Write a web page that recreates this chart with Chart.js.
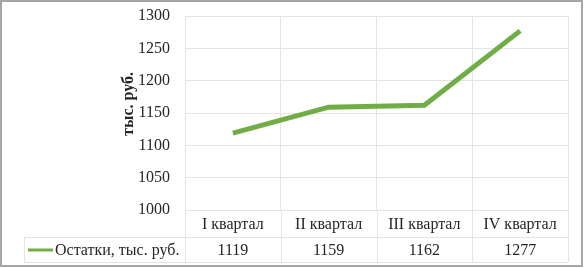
<!DOCTYPE html>
<html>
<head>
<meta charset="utf-8">
<script src="https://cdn.jsdelivr.net/npm/chart.js@4/dist/chart.umd.min.js"></script>
<style>
  html, body { margin: 0; padding: 0; background: #fff; }
  #wrap { width: 584px; height: 268px; }
</style>
</head>
<body>
<div id="wrap"><canvas id="myChart" width="584" height="268"></canvas></div>
<script>
// data
const quarters = ['I квартал', 'II квартал', 'III квартал', 'IV квартал'];
const balances = [1119, 1159, 1162, 1277];
const seriesName = 'Остатки, тыс. руб.';
const axisTitle = 'тыс. руб.';
const yMin = 1000, yMax = 1300, yStep = 50;

const green = '#70ad47';
const gridColor = '#e4e4e4';
const textColor = '#262626';
const serif = "'Liberation Serif', 'Times New Roman', serif";

// outer frame + axis title + data table under the plot
const tablePlugin = {
    id: 'dataTable',
    afterDraw(chart) {
        const ctx = chart.ctx;
        const area = chart.chartArea;
        const x = chart.scales.x;
        const row1 = area.bottom + 27;
        const row2 = row1 + 25;
        const legendLeft = 24;

        // column borders
        let edges = [area.left];
        for (let i = 0; i < quarters.length - 1; i++) {
            edges.push((x.getPixelForValue(i) + x.getPixelForValue(i + 1)) / 2);
        }
        edges.push(area.right);

        ctx.save();
        ctx.strokeStyle = gridColor;
        ctx.lineWidth = 1;
        ctx.beginPath();
        edges.forEach(e => {
            const px = Math.round(e) + 0.5;
            ctx.moveTo(px, area.bottom);
            ctx.lineTo(px, row2);
        });
        ctx.moveTo(legendLeft + 0.5, row1);
        ctx.lineTo(legendLeft + 0.5, row2);
        ctx.moveTo(legendLeft, row1 + 0.5);
        ctx.lineTo(area.right, row1 + 0.5);
        ctx.moveTo(legendLeft, row2 + 0.5);
        ctx.lineTo(area.right, row2 + 0.5);
        ctx.stroke();

        // texts
        ctx.fillStyle = textColor;
        ctx.font = '16px ' + serif;
        ctx.textAlign = 'center';
        ctx.textBaseline = 'middle';
        quarters.forEach((q, i) => {
            const cx = x.getPixelForValue(i);
            ctx.fillText(q, cx, (area.bottom + row1) / 2 + 1);
            ctx.fillText(String(balances[i]), cx, (row1 + row2) / 2 + 1);
        });

        // legend key
        ctx.strokeStyle = green;
        ctx.lineWidth = 3;
        ctx.beginPath();
        ctx.moveTo(28, (row1 + row2) / 2 + 0.5);
        ctx.lineTo(53, (row1 + row2) / 2 + 0.5);
        ctx.stroke();
        ctx.textAlign = 'left';
        ctx.fillText(seriesName, 55, (row1 + row2) / 2 + 1);

        // axis title
        ctx.save();
        ctx.translate(129, 104);
        ctx.rotate(-Math.PI / 2);
        ctx.font = 'bold 16px ' + serif;
        ctx.textAlign = 'center';
        ctx.fillText(axisTitle, 0, 0);
        ctx.restore();

        // frame
        ctx.strokeStyle = '#a6a6a6';
        ctx.lineWidth = 2;
        ctx.strokeRect(1, 1, 581, 265);
        ctx.restore();
    }
};

var ctx = document.getElementById('myChart').getContext('2d');
var myChart = new Chart(ctx, {
    type: 'line',
    data: {
        labels: quarters,
        datasets: [{
            label: seriesName,
            data: balances,
            borderColor: green,
            backgroundColor: green,
            borderWidth: 5,
            pointRadius: 0,
            tension: 0
        }]
    },
    options: {
        responsive: false,
        animation: false,
        layout: { padding: { top: 16, right: 16, bottom: 58, left: 0 } },
        plugins: {
            legend: { display: false },
            tooltip: { enabled: false }
        },
        scales: {
            x: {
                offset: true,
                ticks: { display: false },
                grid: { color: gridColor, offset: true, drawTicks: false },
                border: { display: false }
            },
            y: {
                min: yMin,
                max: yMax,
                afterFit: s => { s.width = 185; s.paddingTop = 0; s.paddingBottom = 0; },
                ticks: {
                    stepSize: yStep,
                    padding: 15,
                    color: textColor,
                    font: { family: serif, size: 16 },
                    callback: v => String(v)
                },
                grid: { color: gridColor, drawTicks: false },
                border: { color: gridColor }
            }
        }
    },
    plugins: [tablePlugin]
});
</script>
</body>
</html>
